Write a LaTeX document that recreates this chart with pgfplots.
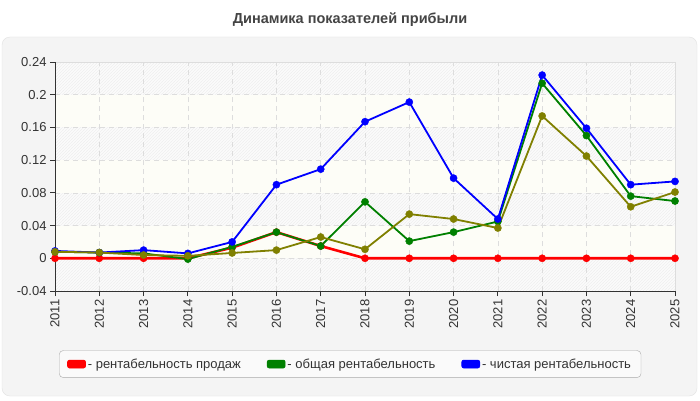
\documentclass[border=0pt]{standalone}
\usepackage{fontspec}
\setmainfont{Liberation Sans}
\usepackage{pgfplots}
\pgfplotsset{compat=1.18}
\usepackage{pgfplotstable}
\usetikzlibrary{patterns}
\definecolor{panelbg}{HTML}{F4F4F4}
\definecolor{panelborder}{HTML}{E2E2E2}
\definecolor{titlegray}{HTML}{444444}
\definecolor{textgray}{HTML}{333333}
\definecolor{axisdark}{HTML}{333333}
\definecolor{gridgray}{HTML}{DDDDDD}
\definecolor{bandyellow}{HTML}{FDFDF7}
\definecolor{hatchbase}{HTML}{FBFBFB}
\definecolor{hatchline}{HTML}{EFEFEF}
\definecolor{legendbg}{HTML}{FAFAFA}
\definecolor{legendborder}{HTML}{AAAAAA}
\definecolor{cred}{HTML}{FF0000}
\definecolor{cgreen}{HTML}{008000}
\definecolor{cblue}{HTML}{0000FF}
\definecolor{colive}{HTML}{808000}

\pgfplotstableread{
year red green blue olive
2011 0 0.008 0.009 0.008
2012 0 0.007 0.007 0.007
2013 0 0.006 0.010 0.004
2014 0 -0.001 0.006 0.003
2015 0.013 0.014 0.020 0.0065
2016 0.032 0.032 0.090 0.010
2017 0.015 0.015 0.109 0.026
2018 0 0.069 0.167 0.011
2019 0 0.021 0.191 0.054
2020 0 0.032 0.098 0.048
2021 0 0.045 0.048 0.037
2022 0 0.214 0.224 0.174
2023 0 0.150 0.159 0.125
2024 0 0.076 0.090 0.063
2025 0 0.070 0.094 0.081
}\datatable

\begin{document}
\begin{tikzpicture}
\fill[white] (0pt,0pt) rectangle (700pt,400pt);
\filldraw[fill=panelbg, draw=panelborder, rounded corners=8pt] (2pt,4pt) rectangle (697pt,363pt);
\node[font=\fontsize{14.5}{16}\selectfont\bfseries, text=titlegray] at (350pt,380pt) {Динамика показателей прибыли};
% plot-area background: hatched and plain bands between the grid lines
\fill[hatchbase] (55pt,109pt) rectangle (675pt,338pt);
\fill[pattern=north east lines, pattern color=hatchline] (55pt,109pt) rectangle (675pt,338pt);
\fill[bandyellow] (55pt,141.71pt) rectangle (675pt,174.43pt);
\fill[bandyellow] (55pt,207.14pt) rectangle (675pt,239.86pt);
\fill[bandyellow] (55pt,272.57pt) rectangle (675pt,305.29pt);
\draw[gridgray, line width=0.8pt] (55pt,338pt) -- (675pt,338pt) -- (675pt,109pt);
\begin{axis}[
  at={(55pt,109pt)}, anchor=south west,
  scale only axis, width=620pt, height=229pt,
  xmin=2011, xmax=2025, ymin=-0.04, ymax=0.24,
  axis x line*=bottom, axis y line*=left,
  axis line style={draw=axisdark, line width=0.8pt, -},
  tick align=outside, major tick length=5pt,
  tick style={draw=axisdark, line width=0.8pt},
  xtick={2011,2012,2013,2014,2015,2016,2017,2018,2019,2020,2021,2022,2023,2024,2025},
  xticklabels={2011,2012,2013,2014,2015,2016,2017,2018,2019,2020,2021,2022,2023,2024,2025},
  ytick={-0.04,0,0.04,0.08,0.12,0.16,0.2,0.24},
  yticklabels={-0.04,0,0.04,0.08,0.12,0.16,0.2,0.24},
  ticklabel style={font=\fontsize{13}{15}\selectfont, text=textgray},
  xticklabel style={rotate=90, anchor=east},
  grid=major,
  major grid style={draw=gridgray, line width=0.6pt, dash pattern=on 5pt off 4pt},
  legend columns=3,
  legend style={at={(0.476,-0.319)}, anchor=center,
    draw=legendborder, fill=legendbg, rounded corners=4pt,
    font=\fontsize{13}{15}\selectfont, text=textgray,
    inner xsep=8pt, inner ysep=6pt,
    /tikz/every even column/.append style={column sep=24pt}},
  legend image code/.code={\filldraw[#1, mark=none, line width=0.6pt, rounded corners=2pt] (0pt,-4pt) rectangle (18pt,4pt);},
]
\addplot[color=cred, line width=2.6pt, mark=*, mark size=3.6pt, mark options={solid, line width=0.4pt}] table[x=year, y=red] {\datatable};
\addlegendentry{- рентабельность продаж}
\addplot[color=cgreen, line width=1.8pt, mark=*, mark size=3.6pt, mark options={solid, line width=0.4pt}] table[x=year, y=green] {\datatable};
\addlegendentry{- общая рентабельность}
\addplot[color=cblue, line width=1.8pt, mark=*, mark size=3.6pt, mark options={solid, line width=0.4pt}] table[x=year, y=blue] {\datatable};
\addlegendentry{- чистая рентабельность}
\addplot[forget plot, color=colive, line width=1.8pt, mark=*, mark size=3.6pt, mark options={solid, line width=0.4pt}] table[x=year, y=olive] {\datatable};
\end{axis}
\end{tikzpicture}
\end{document}
